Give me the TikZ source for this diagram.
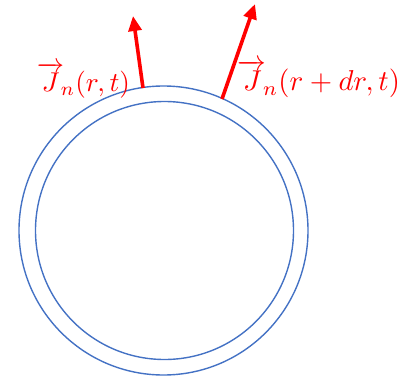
\documentclass[tikz,border=0pt]{standalone}
\usepackage{graphicx}
\usetikzlibrary{arrows.meta}
\begin{document}
\begin{tikzpicture}[x=1pt,y=-1pt,
  ring/.style={circle,draw={rgb,255:red,68;green,114;blue,196},line width=1.4pt,inner sep=0pt},
  flux/.style={draw=red,line width=3.6pt,-{Triangle[length=15pt,width=13pt]}},
  lbl/.style={text=red,inner sep=0pt}]
\useasboundingbox (0,0) rectangle (413,378);
\node[ring,minimum size=289pt] (outer) at (163.5,230.5) {};
\node[ring,minimum size=258pt] (inner) at (164.5,230.5) {};
\coordinate (a1) at (143,88);
\coordinate (a2) at (133,16);
\coordinate (b1) at (222,99);
\coordinate (b2) at (255,4);
\draw[flux] (a1) -- (a2);
\draw[flux] (b1) -- (b2);
\node[lbl] (l1) at (83.5,80) {\resizebox{93pt}{!}{$\overrightarrow{J\rule{0pt}{1.85ex}}_{\!n}(r,t)$}};
\node[lbl] (l2) at (319,79) {\resizebox{162pt}{!}{$\overrightarrow{J\rule{0pt}{1.85ex}}_{\!n}(r+dr,t)$}};
\end{tikzpicture}
\end{document}
